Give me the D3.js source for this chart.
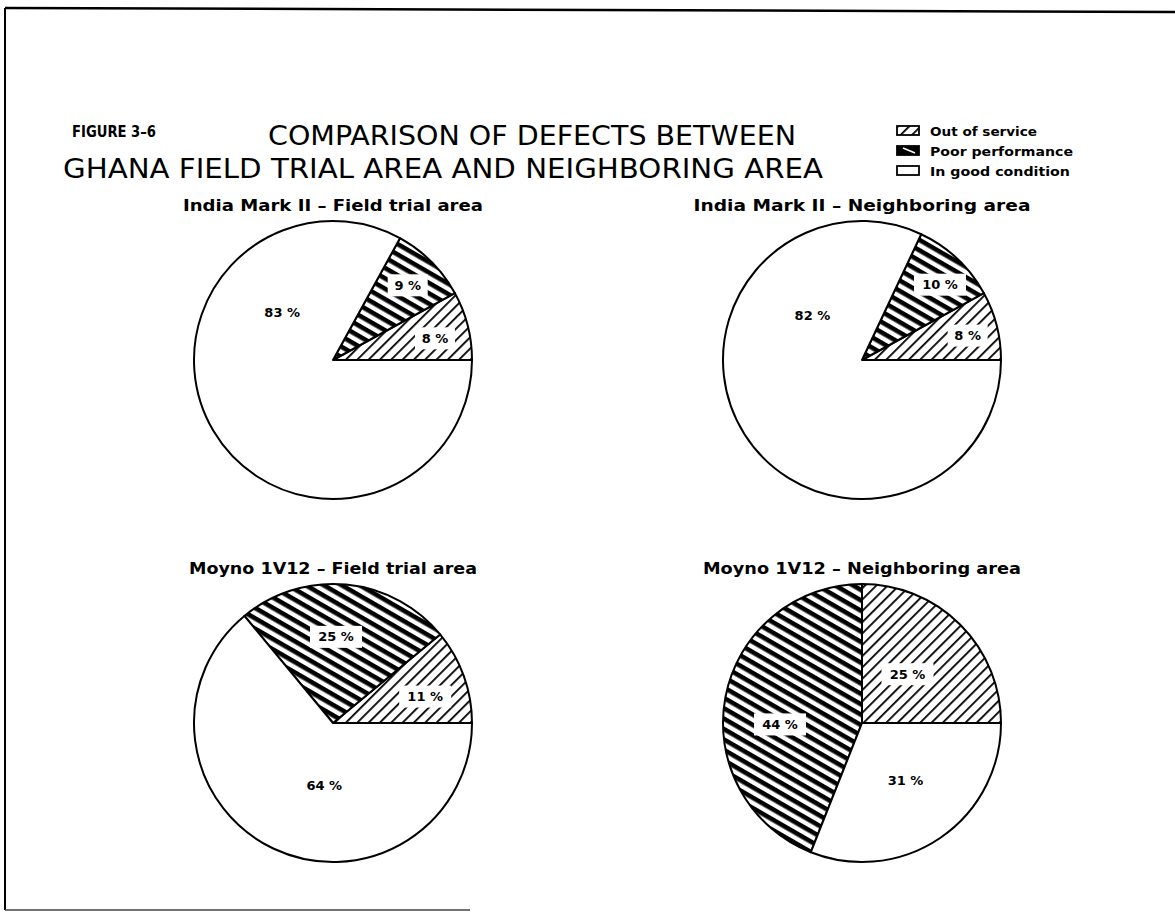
<!DOCTYPE html>
<html lang="en">
<head>
<meta charset="utf-8">
<title>Figure 3-6 pies</title>
<script type="text/javascript" src="https://cdn.jsdelivr.net/npm/d3@7"></script>
<style type="text/css">
  body { margin:0; background:#ffffff; }
  svg text { fill:#000; }
</style>
</head>
<body>
<script type="text/javascript">
// chart values
var categories = ["Out of service", "Poor performance", "In good condition"]
var pieTitles = ["India Mark II \u2013 Field trial area", "India Mark II \u2013 Neighboring area",
                 "Moyno 1V12 \u2013 Field trial area", "Moyno 1V12 \u2013 Neighboring area"]
var indiaField = [8, 9, 83]
var indiaNeigh = [8, 10, 82]
var moynoField = [11, 25, 64]
var moynoNeigh = [25, 44, 31]
var series = [indiaField, indiaNeigh, moynoField, moynoNeigh]

// where the percent label sits: [angle deg ccw from east, fraction of radius]
var labelSpots = [
  [[12, 0.75], [45, 0.76], [137, 0.5]],
  [[13, 0.78], [44, 0.78], [138, 0.48]],
  [[16, 0.69], [88, 0.62], [262, 0.45]],
  [[47, 0.48], [181, 0.59], [307, 0.52]]
]

var width = 1175, height = 912
var radius = 139
var cx = [333, 862, 333, 862]
var cy = [360, 360, 723, 723]
var fills = ["url(#outhatch)", "url(#poorhatch)", "#ffffff"]

var svg = d3.select("body").append("svg")
  .attr("width", width).attr("height", height)

var defs = svg.append("defs")
var p1 = defs.append("pattern").attr("id", "outhatch")
  .attr("patternUnits", "userSpaceOnUse").attr("width", 8).attr("height", 8)
  .attr("patternTransform", "rotate(-45)")
p1.append("rect").attr("width", 8).attr("height", 8).attr("fill", "#fff")
p1.append("rect").attr("y", 0).attr("width", 8).attr("height", 1.8).attr("fill", "#000")

var p2 = defs.append("pattern").attr("id", "poorhatch")
  .attr("patternUnits", "userSpaceOnUse").attr("width", 9).attr("height", 9)
  .attr("patternTransform", "rotate(30)")
p2.append("rect").attr("width", 9).attr("height", 9).attr("fill", "#fff")
p2.append("rect").attr("y", 0).attr("width", 9).attr("height", 4.6).attr("fill", "#000")

// page border (scan edges)
svg.append("line").attr("x1", 5).attr("y1", 8).attr("x2", 5).attr("y2", 910)
  .attr("stroke", "#000").attr("stroke-width", 2)
svg.append("line").attr("x1", 5).attr("y1", 8).attr("x2", 1175).attr("y2", 12)
  .attr("stroke", "#000").attr("stroke-width", 2.5)
svg.append("line").attr("x1", 5).attr("y1", 910).attr("x2", 470).attr("y2", 910)
  .attr("stroke", "#444").attr("stroke-width", 1.5)

// titles
svg.append("text").text("FIGURE 3\u20136")
  .attr("x", 72).attr("y", 137)
  .attr("font-family", "DejaVu Sans").attr("font-weight", "bold").attr("font-size", 15)
  .attr("textLength", 84).attr("lengthAdjust", "spacingAndGlyphs")
svg.append("text").text("COMPARISON OF DEFECTS BETWEEN")
  .attr("x", 268).attr("y", 145)
  .attr("font-family", "DejaVu Sans").attr("font-size", 27)
  .attr("textLength", 528).attr("lengthAdjust", "spacingAndGlyphs")
svg.append("text").text("GHANA FIELD TRIAL AREA AND NEIGHBORING AREA")
  .attr("x", 63).attr("y", 178)
  .attr("font-family", "DejaVu Sans").attr("font-size", 27)
  .attr("textLength", 760).attr("lengthAdjust", "spacingAndGlyphs")

// legend
var legend = svg.append("g").attr("transform", "translate(897,126)")
var lg = legend.selectAll("g").data(categories).enter().append("g")
  .attr("transform", function(d, i) { return "translate(0," + (i * 20) + ")" })
lg.append("rect").attr("width", 22).attr("height", 9)
  .attr("fill", function(d, i) { return i == 1 ? "#000" : (i == 0 ? "url(#outhatch)" : "#fff") })
  .attr("stroke", "#000").attr("stroke-width", 1.8)
lg.filter(function(d, i) { return i == 1 })
  .append("line").attr("x1", 6).attr("y1", 2).attr("x2", 18).attr("y2", 7)
  .attr("stroke", "#fff").attr("stroke-width", 1.5)
lg.append("text").text(function(d) { return d })
  .attr("x", 33).attr("y", 9.5)
  .attr("font-family", "DejaVu Sans").attr("font-weight", "bold").attr("font-size", 13)
  .attr("textLength", function(d, i) { return [107, 143, 140][i] })
  .attr("lengthAdjust", "spacingAndGlyphs")

// pies, counter-clockwise from 3 o'clock
var pie = d3.pie().sort(null).value(function(d) { return d })
  .startAngle(Math.PI / 2).endAngle(Math.PI / 2 - 2 * Math.PI)
var arc = d3.arc().innerRadius(0).outerRadius(radius)
var titleLen = [300, 337, 288, 318]

series.forEach(function(vals, k) {
  var g = svg.append("g").attr("transform", "translate(" + cx[k] + "," + cy[k] + ")")

  svg.append("text").text(pieTitles[k])
    .attr("x", cx[k]).attr("y", cy[k] - radius - 10)
    .attr("text-anchor", "middle")
    .attr("font-family", "DejaVu Sans").attr("font-weight", "bold").attr("font-size", 15)
    .attr("textLength", titleLen[k]).attr("lengthAdjust", "spacingAndGlyphs")

  g.selectAll("path").data(pie(vals)).enter().append("path")
    .attr("d", arc)
    .attr("fill", function(d, i) { return fills[i] })
    .attr("stroke", "#000").attr("stroke-width", 2).attr("stroke-linejoin", "round")

  var labs = g.selectAll("g.lab").data(vals).enter().append("g").attr("class", "lab")
    .attr("transform", function(d, i) {
      var a = labelSpots[k][i][0] * Math.PI / 180
      var r = labelSpots[k][i][1] * radius
      return "translate(" + (r * Math.cos(a)) + "," + (-r * Math.sin(a)) + ")"
    })
  labs.append("rect")
    .attr("x", function(d) { return d < 10 ? -20 : -26 }).attr("y", -11)
    .attr("width", function(d) { return d < 10 ? 40 : 52 }).attr("height", 22)
    .attr("fill", function(d, i) { return i < 2 ? "#fff" : "none" })
  labs.append("text").text(function(d) { return d + " %" })
    .attr("text-anchor", "middle").attr("dy", "0.35em")
    .attr("font-family", "DejaVu Sans").attr("font-weight", "bold").attr("font-size", 13)
})
</script>
</body>
</html>
